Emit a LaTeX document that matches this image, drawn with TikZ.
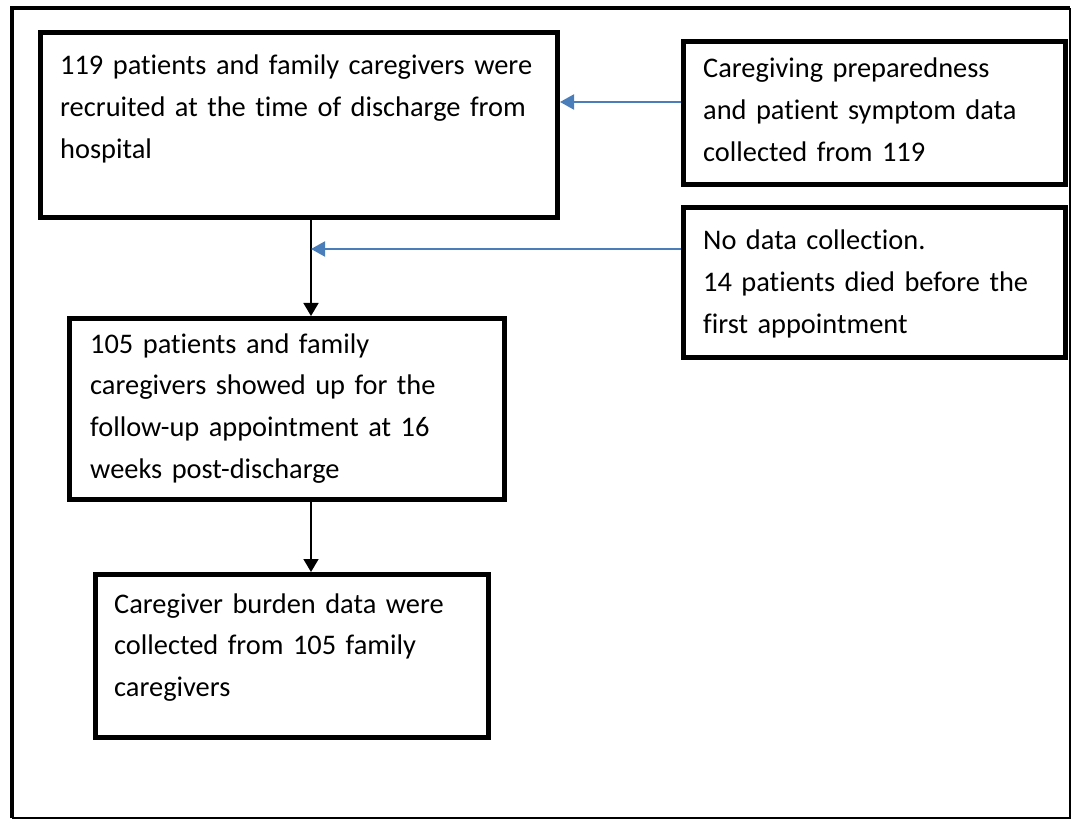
\documentclass[tikz,border=0pt]{standalone}
\usepackage{fontspec}
\setmainfont{Carlito}[Ligatures=NoCommon]
\usetikzlibrary{arrows.meta,calc}
\definecolor{arrowblue}{RGB}{74,126,187}
\begin{document}
\begin{tikzpicture}[x=1pt,y=-1pt,
  box/.style={draw=black, line width=5pt, inner sep=0pt, anchor=north west},
  txt/.style={anchor=base west, inner sep=0pt, align=left, text width=500pt,
    font=\fontsize{28.4}{41.7}\selectfont},
  blackarrow/.style={draw=black, line width=1.6pt, -{Triangle[length=13pt,width=15pt]}},
  bluearrow/.style={draw=arrowblue, line width=2pt, -{Triangle[length=14pt,width=15pt]}}]
\useasboundingbox (0,0) rectangle (1072,821);
% outer frame
\draw[line width=4pt] (12,818) -- (12,8) -- (1070,8);
\draw[line width=2pt] (1070,8) -- (1070,818) -- (12,818);
% boxes
\node[box, minimum width=517.5pt, minimum height=184.5pt] (b1) at (37.5,30.5) {};
\node[box, minimum width=381.5pt, minimum height=143.5pt] (b2) at (681,39) {};
\node[box, minimum width=382pt, minimum height=150.5pt] (b3) at (681,205) {};
\node[box, minimum width=434.5pt, minimum height=180.5pt] (b4) at (67,316) {};
\node[box, minimum width=393pt, minimum height=163pt] (b5) at (93,572) {};
% texts
\node[txt] (t1) at (60,75) {119 patients and family caregivers were\\recruited at the time of discharge from\\hospital};
\node[txt] (t2) at (703,78) {Caregiving preparedness\\and patient symptom data\\collected from 119};
\node[txt] (t3) at (703,250) {No data collection.\\14 patients died before the\\first appointment};
\node[txt] (t4) at (90,353) {105 patients and family\\caregivers showed up for the\\follow-up appointment at 16\\weeks post-discharge};
\node[txt] (t5) at (114,613) {Caregiver burden data were\\collected from 105 family\\caregivers};
% connectors
\coordinate (j) at (311,249);
\coordinate (a1) at (600,102);
\draw[blackarrow] (j |- b1.south) -- (j |- b4.north);
\draw[blackarrow] (j |- b4.south) -- (j |- b5.north);
\draw[bluearrow] (b2.west |- a1) -- (b1.east |- a1);
\draw[bluearrow] (b3.west |- j) -- (j);
\end{tikzpicture}
\end{document}
